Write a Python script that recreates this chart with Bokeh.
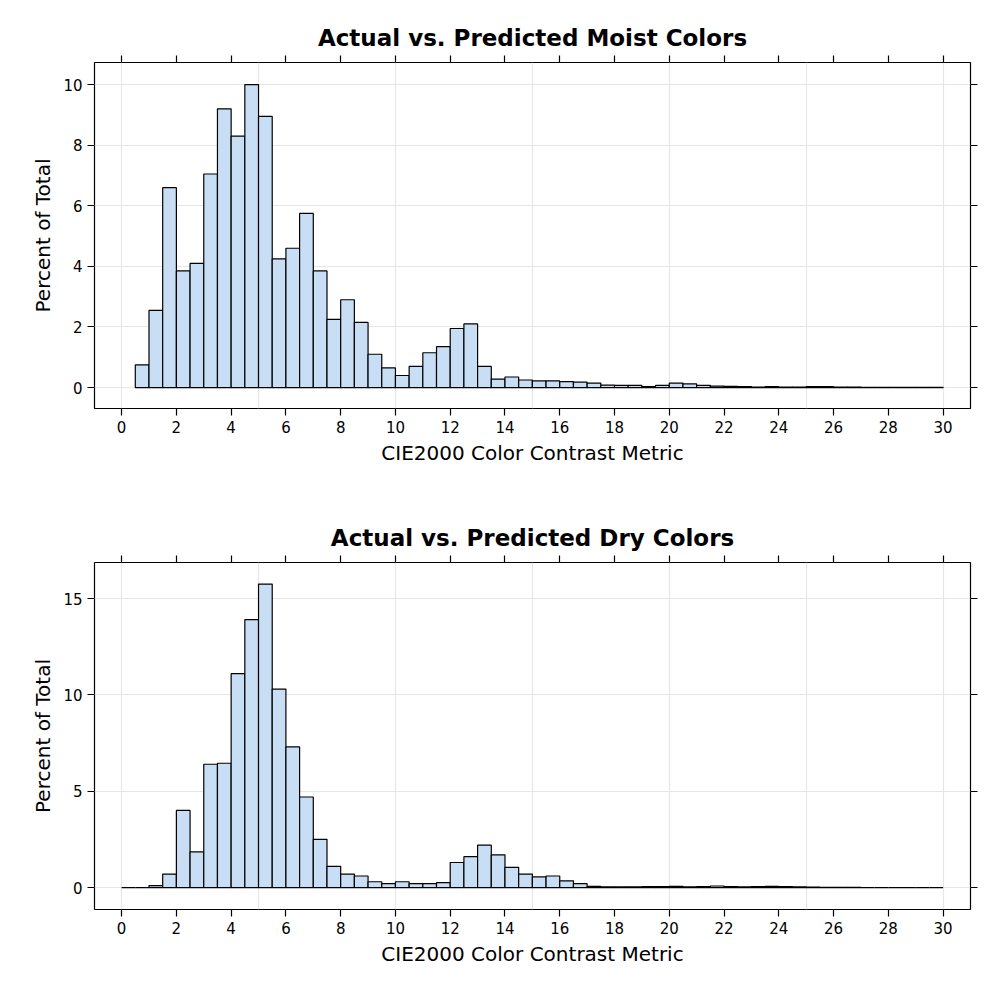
import numpy as np
from bokeh.plotting import figure
from bokeh.layouts import column
from bokeh.models import LinearAxis, FixedTicker, Range1d
from bokeh.embed import file_html
from bokeh.resources import INLINE

bin_width = 0.5
moist_start = 0.5
moist_pct = [0.75, 2.55, 6.6, 3.85, 4.1, 7.05, 9.2, 8.3, 10.0, 8.95,
             4.25, 4.6, 5.75, 3.85, 2.25, 2.9, 2.15, 1.1, 0.65, 0.4,
             0.7, 1.15, 1.35, 1.95, 2.1, 0.7, 0.28, 0.35, 0.25, 0.22,
             0.22, 0.2, 0.18, 0.15, 0.08, 0.07, 0.07, 0.03, 0.07, 0.15,
             0.12, 0.07, 0.05, 0.04, 0.03, 0.02, 0.03, 0.02, 0.02, 0.03,
             0.03, 0.02, 0.02, 0.01, 0.01, 0.01, 0.01, 0.01, 0.01]
dry_start = 0.0
dry_pct = [0.0, 0.0, 0.1, 0.7, 4.0, 1.85, 6.4, 6.45, 11.1, 13.9,
           15.75, 10.3, 7.3, 4.7, 2.5, 1.1, 0.7, 0.6, 0.3, 0.2,
           0.3, 0.2, 0.2, 0.25, 1.3, 1.6, 2.2, 1.7, 1.05, 0.7,
           0.55, 0.6, 0.35, 0.2, 0.06, 0.04, 0.03, 0.04, 0.05, 0.05,
           0.06, 0.04, 0.05, 0.08, 0.05, 0.04, 0.05, 0.06, 0.05, 0.04,
           0.02, 0.01, 0.01, 0.01, 0.0, 0.0, 0.0, 0.0, 0.0, 0.0]
x_ticks = list(range(0, 31, 2))
x_grid = [0, 5, 10, 15, 20, 25, 30]
moist_yticks = [0, 2, 4, 6, 8, 10]
dry_yticks = [0, 5, 10, 15]

FONT = "DejaVu Sans"

def make(title, start, vals, yticks, yr, h, bt, bb):
    p = figure(width=984, height=h, output_backend="svg", toolbar_location=None,
               x_range=Range1d(-0.99, 31.0), y_range=Range1d(*yr),
               min_border_left=94, min_border_right=14,
               min_border_top=bt, min_border_bottom=bb,
               x_axis_location=None, y_axis_location=None)
    p.title.text = title
    p.title.align = "center"
    p.title.text_font = FONT
    p.title.text_font_size = "23px"
    p.title.text_font_style = "bold"
    p.title.text_color = "black"
    p.title.offset = 0
    left = start + bin_width * np.arange(len(vals))
    p.quad(left=left, right=left + bin_width, bottom=0, top=vals,
           fill_color="#C8DEF4", line_color="black", line_width=1.2)
    p.xgrid.ticker = FixedTicker(ticks=x_grid)
    p.ygrid.ticker = FixedTicker(ticks=yticks)
    p.grid.grid_line_color = "#e6e6e6"
    p.grid.grid_line_width = 1.2
    p.outline_line_color = "black"
    p.outline_line_width = 1.2
    bottom = LinearAxis(ticker=FixedTicker(ticks=x_ticks),
                        axis_label="CIE2000 Color Contrast Metric")
    leftax = LinearAxis(ticker=FixedTicker(ticks=yticks),
                        axis_label="Percent of Total")
    top = LinearAxis(ticker=FixedTicker(ticks=x_ticks),
                     major_label_overrides={t: "" for t in x_ticks})
    right = LinearAxis(ticker=FixedTicker(ticks=yticks),
                       major_label_overrides={t: "" for t in yticks})
    p.add_layout(bottom, "below")
    p.add_layout(leftax, "left")
    p.add_layout(top, "above")
    p.add_layout(right, "right")
    for ax in (bottom, leftax, top, right):
        ax.axis_line_color = None
        ax.major_tick_line_color = "black"
        ax.major_tick_line_width = 1.2
        ax.major_tick_out = 7
        ax.major_tick_in = 0
        ax.minor_tick_line_color = None
        ax.axis_label_text_font = FONT
        ax.axis_label_text_font_size = "20px"
        ax.axis_label_text_font_style = "normal"
        ax.axis_label_text_color = "black"
        ax.major_label_text_font = FONT
        ax.major_label_text_font_size = "15px"
        ax.major_label_text_color = "black"
    top.major_label_standoff = 0
    right.major_label_standoff = 0
    leftax.major_label_orientation = "horizontal"
    return p

p1 = make("Actual vs. Predicted Moist Colors", moist_start, moist_pct, moist_yticks,
          (-0.69, 10.73), 492, 62, 84)
p2 = make("Actual vs. Predicted Dry Colors", dry_start, dry_pct, dry_yticks,
          (-1.14, 16.87), 500, 70, 83)
p = column(p1, p2, spacing=0)
open("out.html", "w").write(file_html(p, INLINE))
